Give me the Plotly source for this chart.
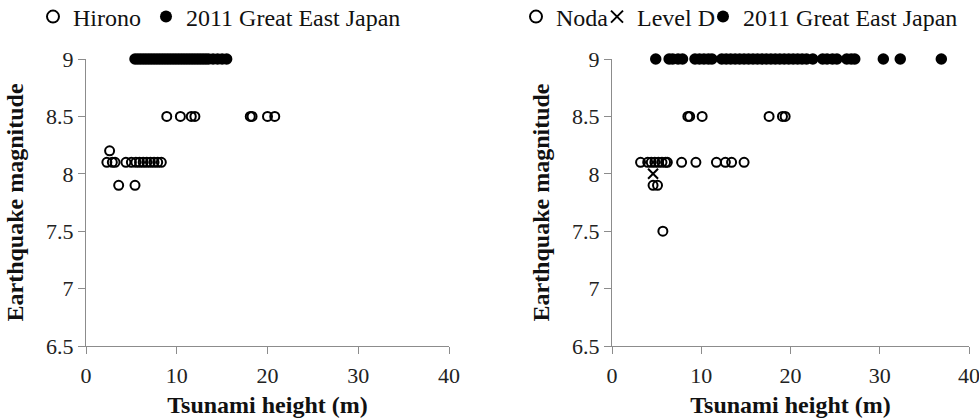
import plotly.graph_objects as go

# ---------------- data ----------------
# Left panel: Hirono
hirono_x = [2.3, 2.9, 3.2, 4.4, 5.0, 5.5, 5.9, 6.3, 6.7, 7.1, 7.5, 7.9, 8.3,
            2.6,
            3.6, 5.4,
            8.9, 10.4, 11.6, 12.0, 18.1, 18.3, 20.0, 20.8]
hirono_y = [8.1, 8.1, 8.1, 8.1, 8.1, 8.1, 8.1, 8.1, 8.1, 8.1, 8.1, 8.1, 8.1,
            8.2,
            7.9, 7.9,
            8.5, 8.5, 8.5, 8.5, 8.5, 8.5, 8.5, 8.5]

ge_left_x = [5.4, 5.7, 6.0, 6.3, 6.6, 6.9, 7.2, 7.5, 7.8, 8.1, 8.4, 8.7, 9.0,
             9.3, 9.6, 9.9, 10.2, 10.5, 10.8, 11.1, 11.4, 11.7, 12.0, 12.3,
             12.6, 12.9, 13.2, 13.5, 14.0, 14.5, 15.0, 15.5]
ge_left_y = [9.0] * len(ge_left_x)

# Right panel: Noda
noda_x = [3.2, 4.0, 4.4, 4.8, 5.2, 5.6, 6.0, 6.2, 7.8, 9.4, 11.7, 12.7, 13.4, 14.8,
          4.6, 5.1,
          5.7,
          8.5, 8.7, 10.1, 17.6, 19.1, 19.4]
noda_y = [8.1, 8.1, 8.1, 8.1, 8.1, 8.1, 8.1, 8.1, 8.1, 8.1, 8.1, 8.1, 8.1, 8.1,
          7.9, 7.9,
          7.5,
          8.5, 8.5, 8.5, 8.5, 8.5, 8.5]

leveld_x = [4.6]
leveld_y = [8.0]

ge_right_x = [4.9, 6.4, 6.8, 7.4, 7.9, 9.3, 9.8, 10.3, 10.8, 11.2, 12.3, 12.8,
              13.3, 13.8, 14.3, 14.8, 15.3, 15.8, 16.3, 16.8, 17.3, 17.8, 18.3,
              18.8, 19.3, 19.8, 20.3, 20.8, 21.3, 21.8, 22.5, 23.6, 24.1, 24.7,
              25.2, 26.3, 26.8, 27.2, 30.4, 32.3, 36.9]
ge_right_y = [9.0] * len(ge_right_x)

x_ticks = [0, 10, 20, 30, 40]
y_ticks = [6.5, 7, 7.5, 8, 8.5, 9]
y_tick_text = ["6.5", "7", "7.5", "8", "8.5", "9"]

x_title = "Tsunami height (m)"
y_title = "Earthquake magnitude"

# ---------------- figure ----------------
FONT = "Liberation Serif"
W, H = 979, 419
ML, MR, MT, MB = 86, 10, 59, 73
PW, PH = W - ML - MR, H - MT - MB

fig = go.Figure()

open_marker = dict(symbol="circle-open", size=9, color="black", line=dict(width=2, color="black"))
fill_marker = dict(symbol="circle", size=11.5, color="black")
x_marker = dict(symbol="x-thin-open", size=10, color="black", line=dict(width=2, color="black"))

fig.add_trace(go.Scatter(x=hirono_x, y=hirono_y, mode="markers", name="Hirono",
                         marker=open_marker, xaxis="x", yaxis="y", cliponaxis=False,
                         legend="legend", legendwidth=68))
fig.add_trace(go.Scatter(x=ge_left_x, y=ge_left_y, mode="markers", name="2011 Great East Japan",
                         marker=fill_marker, xaxis="x", yaxis="y", cliponaxis=False,
                         legend="legend"))
fig.add_trace(go.Scatter(x=noda_x, y=noda_y, mode="markers", name="Noda",
                         marker=open_marker, xaxis="x2", yaxis="y2", cliponaxis=False,
                         legend="legend2", legendwidth=36))
fig.add_trace(go.Scatter(x=leveld_x, y=leveld_y, mode="markers", name="Level D",
                         marker=x_marker, xaxis="x2", yaxis="y2", cliponaxis=False,
                         legend="legend2", legendwidth=61))
fig.add_trace(go.Scatter(x=ge_right_x, y=ge_right_y, mode="markers", name="2011 Great East Japan",
                         marker=fill_marker, xaxis="x2", yaxis="y2", cliponaxis=False,
                         legend="legend2"))

axis_common = dict(showgrid=False, zeroline=False, showline=True, linecolor="#8c8c8c",
                   linewidth=1, ticks="outside", ticklen=7, tickcolor="#8c8c8c",
                   automargin=False, ticklabeloverflow="allow",
                   tickfont=dict(family=FONT, size=22, color="#222"))
title_font = dict(family=FONT, size=24, color="#111", weight="bold")
xcommon = dict(axis_common, range=[0, 40], tickvals=x_ticks, ticklabelstandoff=3,
               title=dict(text=x_title, font=title_font, standoff=8))
ycommon = dict(axis_common, range=[6.5, 9], tickvals=y_ticks, ticktext=y_tick_text,
               title=dict(text=y_title, font=title_font, standoff=15))

legend_font = dict(family=FONT, size=24, color="#111")
leg_y = 1 + (MT - 17) / PH

fig.update_layout(
    width=W, height=H,
    margin=dict(l=ML, r=MR, t=MT, b=MB, autoexpand=False),
    paper_bgcolor="white", plot_bgcolor="white",
    xaxis=dict(xcommon, domain=[0, 363 / PW], anchor="y"),
    yaxis=dict(ycommon, domain=[0, 1], anchor="x"),
    xaxis2=dict(xcommon, domain=[(612 - ML) / PW, 1], anchor="y2"),
    yaxis2=dict(ycommon, domain=[0, 1], anchor="x2"),
    legend=dict(orientation="h", x=(33 - ML) / PW, y=leg_y, xanchor="left", yanchor="middle",
                font=legend_font, bgcolor="rgba(0,0,0,0)", itemsizing="constant"),
    legend2=dict(orientation="h", x=(516 - ML) / PW, y=leg_y, xanchor="left", yanchor="middle",
                 font=legend_font, bgcolor="rgba(0,0,0,0)", itemsizing="constant"),
    showlegend=True,
)

fig.write_html("out.html")
